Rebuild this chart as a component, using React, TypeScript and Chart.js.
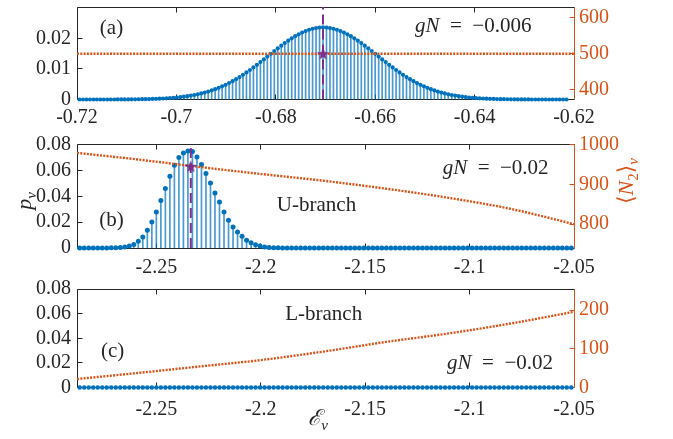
import React, { useEffect, useRef } from "react";
import { Chart, registerables } from "chart.js";

Chart.register(...registerables);

// ---------------- data ----------------
// panel (a): gN = -0.006
const energiesA = [
  -0.7195, -0.7188, -0.7181, -0.7174, -0.7167, -0.716, -0.7153, -0.7146, -0.7139, -0.7132,
  -0.7125, -0.7118, -0.7111, -0.7104, -0.7097, -0.709, -0.7083, -0.7076, -0.7069, -0.7062,
  -0.7055, -0.7048, -0.7041, -0.7034, -0.7027, -0.702, -0.7013, -0.7006, -0.6999, -0.6992,
  -0.6985, -0.6978, -0.6971, -0.6964, -0.6957, -0.695, -0.6943, -0.6936, -0.6929, -0.6922,
  -0.6915, -0.6908, -0.6901, -0.6894, -0.6887, -0.688, -0.6873, -0.6866, -0.6859, -0.6852,
  -0.6845, -0.6838, -0.6831, -0.6824, -0.6817, -0.681, -0.6803, -0.6796, -0.6789, -0.6782,
  -0.6775, -0.6768, -0.6761, -0.6754, -0.6747, -0.674, -0.6733, -0.6726, -0.6719, -0.6712,
  -0.6705,
  -0.6698, -0.6691, -0.6684, -0.6677, -0.667, -0.6663, -0.6656, -0.6649, -0.6642, -0.6635,
  -0.6628, -0.6621, -0.6614, -0.6607, -0.66, -0.6593, -0.6586, -0.6579, -0.6572, -0.6565,
  -0.6558, -0.6551, -0.6544, -0.6537, -0.653, -0.6523, -0.6516, -0.6509, -0.6502, -0.6495,
  -0.6488, -0.6481, -0.6474, -0.6467, -0.646, -0.6453, -0.6446, -0.6439, -0.6432, -0.6425,
  -0.6418, -0.6411, -0.6404, -0.6397, -0.639, -0.6383, -0.6376, -0.6369, -0.6362, -0.6355,
  -0.6348, -0.6341, -0.6334, -0.6327, -0.632, -0.6313, -0.6306, -0.6299, -0.6292, -0.6285,
  -0.6278, -0.6271, -0.6264, -0.6257, -0.625, -0.6243, -0.6236, -0.6229, -0.6222, -0.6215,
];
const probsA = [
  0, 0, 0, 0, 0, 0, 0, 0, 0, 0,
  0, 0.00002, 0.00003, 0.00003, 0.00004, 0.00005, 0.00006, 0.00008, 0.0001, 0.00012,
  0.00015, 0.00018, 0.00022, 0.00027, 0.00032, 0.00039, 0.00047, 0.00056, 0.00066, 0.00078,
  0.00092, 0.00108, 0.00127, 0.00148, 0.00171, 0.00198, 0.00227, 0.0026, 0.00297, 0.00337,
  0.00381, 0.0043, 0.00482, 0.00539, 0.006, 0.00666, 0.00735, 0.00809, 0.00886, 0.00966,
  0.0105, 0.01136, 0.01225, 0.01314, 0.01405, 0.01496, 0.01587, 0.01676, 0.01763, 0.01847,
  0.01927, 0.02003, 0.02073, 0.02137, 0.02194, 0.02243, 0.02285, 0.02317, 0.02341, 0.02355,
  0.0236,
  0.02355, 0.02341, 0.02317, 0.02285, 0.02243, 0.02194, 0.02137, 0.02073, 0.02003, 0.01927,
  0.01847, 0.01763, 0.01676, 0.01587, 0.01496, 0.01405, 0.01314, 0.01225, 0.01136, 0.0105,
  0.00966, 0.00886, 0.00809, 0.00735, 0.00666, 0.006, 0.00539, 0.00482, 0.0043, 0.00381,
  0.00337, 0.00297, 0.0026, 0.00227, 0.00198, 0.00171, 0.00148, 0.00127, 0.00108, 0.00092,
  0.00078, 0.00066, 0.00056, 0.00047, 0.00039, 0.00032, 0.00027, 0.00022, 0.00018, 0.00015,
  0.00012, 0.0001, 0.00008, 0.00006, 0.00005, 0.00004, 0.00003, 0.00003, 0.00002, 0,
  0, 0, 0, 0, 0, 0, 0, 0, 0, 0,
];
const n2EnergiesA = [-0.72, -0.62];
const n2ValuesA = [500, 500];
const meanEnergyA = -0.6705;
const meanN2A = 500;

// panels (b) and (c): gN = -0.02
const energiesBC = [
  -2.28672, -2.28456, -2.2824, -2.28024, -2.27808, -2.27592, -2.27376, -2.2716, -2.26944, -2.26728,
  -2.26512, -2.26296, -2.2608, -2.25864, -2.25648, -2.25432, -2.25216, -2.25, -2.24784, -2.24568,
  -2.24352, -2.24136, -2.2392, -2.23704, -2.23488, -2.23272, -2.23056, -2.2284, -2.22624, -2.22408,
  -2.22192, -2.21976, -2.2176, -2.21544, -2.21328, -2.21112, -2.20896, -2.2068, -2.20464, -2.20248,
  -2.20032, -2.19816, -2.196, -2.19384, -2.19168, -2.18952, -2.18736, -2.1852, -2.18304, -2.18088,
  -2.17872, -2.17656, -2.1744, -2.17224, -2.17008, -2.16792, -2.16576, -2.1636, -2.16144, -2.15928,
  -2.15712, -2.15496, -2.1528, -2.15064, -2.14848, -2.14632, -2.14416, -2.142, -2.13984, -2.13768,
  -2.13552, -2.13336, -2.1312, -2.12904, -2.12688, -2.12472, -2.12256, -2.1204, -2.11824, -2.11608,
  -2.11392, -2.11176, -2.1096, -2.10744, -2.10528, -2.10312, -2.10096, -2.0988, -2.09664, -2.09448,
  -2.09232, -2.09016, -2.088, -2.08584, -2.08368, -2.08152, -2.07936, -2.0772, -2.07504, -2.07288,
  -2.07072, -2.06856, -2.0664, -2.06424, -2.06208, -2.05992, -2.05776, -2.0556, -2.05344, -2.05128,
];
const probsB = [
  0, 0, 0, 0, 0, 0, 0, 0.0001, 0.0002, 0.0004,
  0.0008, 0.0015, 0.0027, 0.0053, 0.0085, 0.0137, 0.0201, 0.0279, 0.0368, 0.0459,
  0.0555, 0.064, 0.0699, 0.0735, 0.075, 0.0745, 0.0704, 0.0645, 0.0575, 0.0503,
  0.0425, 0.0356, 0.0279, 0.0214, 0.0163, 0.0124, 0.009, 0.0059, 0.0041, 0.0026,
  0.0015, 0.0008, 0.0004, 0.0002, 0.0001, 0, 0, 0, 0, 0,
  0, 0, 0, 0, 0, 0, 0, 0, 0, 0,
  0, 0, 0, 0, 0, 0, 0, 0, 0, 0,
  0, 0, 0, 0, 0, 0, 0, 0, 0, 0,
  0, 0, 0, 0, 0, 0, 0, 0, 0, 0,
  0, 0, 0, 0, 0, 0, 0, 0, 0, 0,
  0, 0, 0, 0, 0, 0, 0, 0, 0, 0,
];
const probsC = [
  0, 0, 0, 0, 0, 0, 0, 0, 0, 0,
  0, 0, 0, 0, 0, 0, 0, 0, 0, 0,
  0, 0, 0, 0, 0, 0, 0, 0, 0, 0,
  0, 0, 0, 0, 0, 0, 0, 0, 0, 0,
  0, 0, 0, 0, 0, 0, 0, 0, 0, 0,
  0, 0, 0, 0, 0, 0, 0, 0, 0, 0,
  0, 0, 0, 0, 0, 0, 0, 0, 0, 0,
  0, 0, 0, 0, 0, 0, 0, 0, 0, 0,
  0, 0, 0, 0, 0, 0, 0, 0, 0, 0,
  0, 0, 0, 0, 0, 0, 0, 0, 0, 0,
  0, 0, 0, 0, 0, 0, 0, 0, 0, 0,
];
const n2EnergiesBC = [-2.288, -2.26, -2.23, -2.2, -2.17, -2.14, -2.11, -2.08, -2.05];
const n2ValuesB = [979, 963, 944, 926, 909, 889, 866, 838, 800];
const n2ValuesC = [22, 37, 54, 71, 93, 118, 140, 166, 196];
const meanEnergyB = -2.2335;
const meanN2B = 945;

// ticks
const xTicksA = [-0.72, -0.7, -0.68, -0.66, -0.64, -0.62];
const xLabelsA = ["-0.72", "-0.7", "-0.68", "-0.66", "-0.64", "-0.62"];
const xTicksBC = [-2.25, -2.2, -2.15, -2.1, -2.05];
const xLabelsBC = ["-2.25", "-2.2", "-2.15", "-2.1", "-2.05"];
const yTicksA = [0, 0.01, 0.02];
const yLabelsA = ["0", "0.01", "0.02"];
const yTicksBC = [0, 0.02, 0.04, 0.06, 0.08];
const yLabelsBC = ["0", "0.02", "0.04", "0.06", "0.08"];
const y2TicksA = [400, 500, 600];
const y2LabelsA = ["400", "500", "600"];
const y2TicksB = [800, 900, 1000];
const y2LabelsB = ["800", "900", "1000"];
const y2TicksC = [0, 100, 200];
const y2LabelsC = ["0", "100", "200"];

// ---------------- styles ----------------
const W = 673;
const H = 439;
const BLUE = "#0072BD";
const STEM = "rgba(0,114,189,0.72)";
const ORANGE = "#D95319";
const PURPLE = "#7E2F8E";
const INK = "#262626";
const FONT = '"Liberation Serif", "Times New Roman", "DejaVu Serif", serif';
const TICK_SIZE = 20;
const TEXT_SIZE = 21;
const AXIS_LEFT = 77;
const AXIS_RIGHT = 574;

type Seg = { t: string; i?: boolean; sub?: boolean };

function segFont(s: Seg, size: number) {
  const sz = s.sub ? Math.round(size * 0.7) : size;
  return `${s.i ? "italic " : ""}${sz}px ${FONT}`;
}

function drawRich(ctx: CanvasRenderingContext2D, segs: Seg[], x: number, y: number, size: number, color: string, rot: number, center: boolean) {
  ctx.save();
  ctx.translate(x, y);
  ctx.rotate(rot);
  ctx.fillStyle = color;
  ctx.textBaseline = "middle";
  ctx.textAlign = "left";
  let total = 0;
  const widths = segs.map((s) => {
    ctx.font = segFont(s, size);
    const w = ctx.measureText(s.t).width;
    total += w;
    return w;
  });
  let cx = center ? -total / 2 : 0;
  segs.forEach((s, k) => {
    ctx.font = segFont(s, size);
    ctx.fillText(s.t, cx, s.sub ? size * 0.3 : 0);
    cx += widths[k];
  });
  ctx.restore();
}

function makeStar(size: number, color: string) {
  const c = document.createElement("canvas");
  c.width = size;
  c.height = size;
  const g = c.getContext("2d")!;
  const R = size / 2;
  const r = R * 0.42;
  g.beginPath();
  for (let k = 0; k < 10; k++) {
    const a = -Math.PI / 2 + (k * Math.PI) / 5;
    const rr = k % 2 === 0 ? R : r;
    const px = R + rr * Math.cos(a);
    const py = R + 0.5 + rr * Math.sin(a);
    if (k === 0) g.moveTo(px, py);
    else g.lineTo(px, py);
  }
  g.closePath();
  g.fillStyle = color;
  g.fill();
  return c;
}

type Panel = {
  energies: number[];
  probs: number[];
  n2E: number[];
  n2V: number[];
  meanE?: number;
  meanN2?: number;
  xMin: number;
  xMax: number;
  xTicks: number[];
  xLabels: string[];
  yMax: number;
  yTicks: number[];
  yLabels: string[];
  y2Min: number;
  y2Max: number;
  y2Ticks: number[];
  y2Labels: string[];
  top: number;
  bottom: number;
  xPad: number;
  marker: number;
  notes: any[];
  titles: any[];
};

function makeFramePlugin(P: Panel) {
  return {
    id: "frame",
    beforeDatasetsDraw(chart: any) {
      const { ctx, chartArea: a, scales } = chart;
      const L = Math.floor(a.left) + 0.5;
      const R = Math.floor(a.right) + 0.5;
      const T = Math.floor(a.top) + 0.5;
      const B = Math.floor(a.bottom) + 0.5;
      const TL = 5;
      ctx.save();
      ctx.lineWidth = 1;
      ctx.setLineDash([]);
      ctx.strokeStyle = INK;
      ctx.beginPath();
      ctx.moveTo(R, T);
      ctx.lineTo(L, T);
      ctx.lineTo(L, B);
      ctx.lineTo(R, B);
      for (const v of P.xTicks) {
        const px = Math.floor(scales.x.getPixelForValue(v)) + 0.5;
        ctx.moveTo(px, B);
        ctx.lineTo(px, B - TL);
        ctx.moveTo(px, T);
        ctx.lineTo(px, T + TL);
      }
      for (const v of P.yTicks) {
        const py = Math.floor(scales.y.getPixelForValue(v)) + 0.5;
        ctx.moveTo(L, py);
        ctx.lineTo(L + TL, py);
      }
      ctx.stroke();
      ctx.strokeStyle = ORANGE;
      ctx.beginPath();
      ctx.moveTo(R, T);
      ctx.lineTo(R, B);
      for (const v of P.y2Ticks) {
        const py = Math.floor(scales.y2.getPixelForValue(v)) + 0.5;
        ctx.moveTo(R, py);
        ctx.lineTo(R - TL, py);
      }
      ctx.stroke();
      ctx.restore();
    },
  };
}

function makeTextPlugin(P: Panel) {
  return {
    id: "texts",
    afterDraw(chart: any) {
      const { ctx, scales } = chart;
      for (const n of P.notes) {
        const px = scales.x.getPixelForValue(n.x);
        const py = scales.y.getPixelForValue(n.y);
        drawRich(ctx, n.segs, px, py, TEXT_SIZE, INK, 0, false);
      }
      for (const t of P.titles) {
        drawRich(ctx, t.segs, t.px, t.py, t.size || TEXT_SIZE, t.color, t.rot, true);
      }
    },
  };
}

const gN = (v: string): Seg[] => [{ t: "gN", i: true }, { t: "\u2002=\u2002" + v }];

const PANELS: Panel[] = [
  {
    energies: energiesA, probs: probsA, n2E: n2EnergiesA, n2V: n2ValuesA,
    meanE: meanEnergyA, meanN2: meanN2A,
    xMin: -0.72, xMax: -0.62, xTicks: xTicksA, xLabels: xLabelsA,
    yMax: 0.0303, yTicks: yTicksA, yLabels: yLabelsA,
    y2Min: 373, y2Max: 630, y2Ticks: y2TicksA, y2Labels: y2LabelsA,
    top: 1, bottom: 99.5, xPad: 6, marker: 2.1,
    notes: [
      { x: -0.7154, y: 0.0232, segs: [{ t: "(a)" }] },
      { x: -0.652, y: 0.0238, segs: gN("\u22120.006") },
    ],
    titles: [],
  },
  {
    energies: energiesBC, probs: probsB, n2E: n2EnergiesBC, n2V: n2ValuesB,
    meanE: meanEnergyB, meanN2: meanN2B,
    xMin: -2.288, xMax: -2.05, xTicks: xTicksBC, xLabels: xLabelsBC,
    yMax: 0.08, yTicks: yTicksBC, yLabels: yLabelsBC,
    y2Min: 740, y2Max: 1000, y2Ticks: y2TicksB, y2Labels: y2LabelsB,
    top: 144.5, bottom: 248, xPad: 8, marker: 2.5,
    notes: [
      { x: -2.2773, y: 0.0216, segs: [{ t: "(b)" }] },
      { x: -2.1923, y: 0.0332, segs: [{ t: "U-branch" }] },
      { x: -2.1129, y: 0.0618, segs: gN("\u22120.02") },
    ],
    titles: [
      { px: 25, py: 201, rot: -Math.PI / 2, color: INK, size: 22, segs: [{ t: "p", i: true }, { t: "\u03bd", i: true, sub: true }] },
      {
        px: 627, py: 181, rot: -Math.PI / 2, color: ORANGE, size: 22,
        segs: [{ t: "\u27e8" }, { t: "N", i: true }, { t: "2", sub: true }, { t: "\u27e9" }, { t: "\u03bd", i: true, sub: true }],
      },
    ],
  },
  {
    energies: energiesBC, probs: probsC, n2E: n2EnergiesBC, n2V: n2ValuesC,
    xMin: -2.288, xMax: -2.05, xTicks: xTicksBC, xLabels: xLabelsBC,
    yMax: 0.08, yTicks: yTicksBC, yLabels: yLabelsBC,
    y2Min: 0, y2Max: 255, y2Ticks: y2TicksC, y2Labels: y2LabelsC,
    top: 289, bottom: 387.5, xPad: 10, marker: 2.3,
    notes: [
      { x: -2.2765, y: 0.0291, segs: [{ t: "(c)" }] },
      { x: -2.1883, y: 0.0589, segs: [{ t: "L-branch" }] },
      { x: -2.1108, y: 0.0197, segs: gN("\u22120.02") },
    ],
    titles: [
      { px: 318, py: 419, rot: 0, color: INK, size: 22, segs: [{ t: "\u2130", i: true }, { t: "\u03bd", i: true, sub: true }] },
    ],
  },
];

function zeroPad(s: any) {
  s.paddingTop = 0;
  s.paddingBottom = 0;
  s.paddingLeft = 0;
  s.paddingRight = 0;
}

function buildConfig(P: Panel, star: HTMLCanvasElement): any {
  const pts = P.energies.map((e, k) => ({ x: e, y: P.probs[k] }));
  const datasets: any[] = [];
  if (P.meanE !== undefined) {
    datasets.push({
      type: "scatter", label: "mean", yAxisID: "y2", order: 0,
      data: [{ x: P.meanE, y: P.meanN2 }],
      pointStyle: star, pointRadius: 6, clip: false,
    });
    datasets.push({
      type: "line", label: "meanLine", yAxisID: "y", order: 1,
      data: [{ x: P.meanE, y: 0 }, { x: P.meanE, y: P.yMax }],
      borderColor: PURPLE, borderWidth: 2, borderDash: [10, 5], pointRadius: 0, fill: false,
    });
  }
  datasets.push({
    type: "line", label: "N2", yAxisID: "y2", order: 2,
    data: P.n2E.map((e, k) => ({ x: e, y: P.n2V[k] })),
    borderColor: ORANGE, borderWidth: 2.4, borderDash: [2, 1.3], pointRadius: 0,
    cubicInterpolationMode: "monotone", fill: false,
  });
  datasets.push({
    type: "scatter", label: "p", yAxisID: "y", order: 3,
    data: pts, pointRadius: P.marker, pointBackgroundColor: BLUE, pointBorderWidth: 0, clip: false,
  });
  datasets.push({
    type: "bar", label: "stems", yAxisID: "y", order: 4,
    data: pts, barThickness: 1, backgroundColor: STEM, borderWidth: 0,
  });

  const tickFont = { family: FONT, size: TICK_SIZE };
  return {
    type: "scatter",
    data: { datasets },
    options: {
      animation: false,
      responsive: false,
      maintainAspectRatio: false,
      devicePixelRatio: 1,
      events: [],
      layout: { padding: { top: P.top, left: 0, right: 0, bottom: 0 } },
      plugins: {
        legend: { display: false },
        tooltip: { enabled: false },
      },
      scales: {
        x: {
          type: "linear", position: "bottom", min: P.xMin, max: P.xMax, offset: false,
          grid: { display: false, drawTicks: false, offset: false }, border: { display: false },
          ticks: {
            autoSkip: false, maxRotation: 0, minRotation: 0, padding: P.xPad, color: INK, font: tickFont,
            callback: (_v: any, i: number) => P.xLabels[i],
          },
          afterBuildTicks: (s: any) => { s.ticks = P.xTicks.map((v) => ({ value: v })); },
          afterFit: (s: any) => { s.height = H - P.bottom; zeroPad(s); },
        },
        y: {
          type: "linear", position: "left", min: 0, max: P.yMax, offset: false,
          grid: { display: false, drawTicks: false }, border: { display: false },
          ticks: {
            autoSkip: false, padding: 6, color: INK, font: tickFont,
            callback: (_v: any, i: number) => P.yLabels[i],
          },
          afterBuildTicks: (s: any) => { s.ticks = P.yTicks.map((v) => ({ value: v })); },
          afterFit: (s: any) => { s.width = AXIS_LEFT; zeroPad(s); },
        },
        y2: {
          type: "linear", position: "right", min: P.y2Min, max: P.y2Max, offset: false,
          grid: { display: false, drawTicks: false }, border: { display: false },
          ticks: {
            autoSkip: false, padding: 5, color: ORANGE, font: tickFont,
            callback: (_v: any, i: number) => P.y2Labels[i],
          },
          afterBuildTicks: (s: any) => { s.ticks = P.y2Ticks.map((v) => ({ value: v })); },
          afterFit: (s: any) => { s.width = W - AXIS_RIGHT; zeroPad(s); },
        },
      },
    },
    plugins: [makeFramePlugin(P), makeTextPlugin(P)],
  };
}

export default function App() {
  const r0 = useRef<HTMLCanvasElement>(null);
  const r1 = useRef<HTMLCanvasElement>(null);
  const r2 = useRef<HTMLCanvasElement>(null);
  useEffect(() => {
    const star = makeStar(13, PURPLE);
    const refs = [r0, r1, r2];
    const charts = PANELS.map((p, k) => new Chart(refs[k].current as HTMLCanvasElement, buildConfig(p, star)));
    return () => charts.forEach((c) => c.destroy());
  }, []);
  const cs: React.CSSProperties = { position: "absolute", left: 0, top: 0, width: W, height: H };
  return (
    <div style={{ position: "absolute", left: 0, top: 0, width: W, height: H, background: "#fff" }}>
      <canvas ref={r0} width={W} height={H} style={cs} />
      <canvas ref={r1} width={W} height={H} style={cs} />
      <canvas ref={r2} width={W} height={H} style={cs} />
    </div>
  );
}
